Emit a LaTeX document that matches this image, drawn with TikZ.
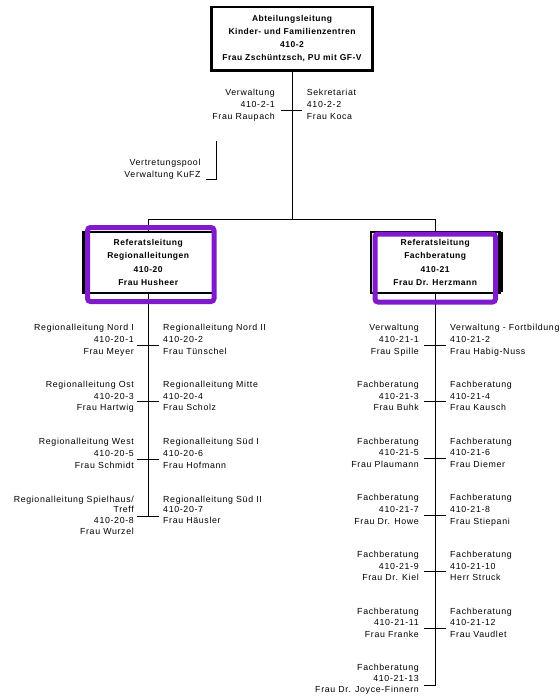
\documentclass[tikz,border=0pt]{standalone}
\usepackage{fontspec}
\setmainfont{Liberation Sans}[LetterSpace=7.5]
\definecolor{violetframe}{RGB}{128,26,204}
\tikzset{
  lbl/.style={inner sep=0pt, font=\fontsize{8.8}{11.7}\selectfont},
  lr/.style={lbl, align=right, anchor=north east},
  ll/.style={lbl, align=left, anchor=north west},
  tight/.style={font=\fontsize{8.8}{10.6}\selectfont},
  headbox/.style={draw, line width=2.7pt, inner sep=0pt, align=center, fill=white,
    font=\bfseries\fontsize{8.5}{13.2}\selectfont\addfontfeature{LetterSpace=6}},
  pframe/.style={draw=violetframe, line width=5pt, rounded corners=3pt},
  conn/.style={line width=1pt},
}
\begin{document}
\begin{tikzpicture}[x=1pt,y=-1pt]
\useasboundingbox (0,0) rectangle (560,697);

% ---------- top ----------
\node[headbox, minimum width=161.3pt, minimum height=63.3pt] (top) at (292,38.5)
  {Abteilungsleitung\\Kinder- und Familienzentren\\410-2\\Frau Zschüntzsch, PU mit GF-V};

\coordinate (j0) at (292,219);
\coordinate (jL) at (148,219);
\coordinate (jR) at (435,219);
\coordinate (stl) at (281,110.7);
\coordinate (str) at (302,110.7);

\draw[conn] (top.south) -- (j0);
\draw[conn] (jL) -- (jR);
\draw[conn] (stl) -- (str);

\node[lr, font=\fontsize{8.8}{12}\selectfont] (verw) at (275,88.9) {Verwaltung\\410-2-1\\Frau Raupach};
\node[ll, font=\fontsize{8.8}{12}\selectfont] (sekr) at (306.7,88.9) {Sekretariat\\410-2-2\\Frau Koca};

% Vertretungspool bracket
\node[lr, font=\fontsize{8.8}{12}\selectfont] (pool) at (200.7,158.9) {Vertretungspool\\Verwaltung KuFZ};
\coordinate (pa) at (216.5,141);
\coordinate (pb) at (216.5,179);
\coordinate (pc) at (206,179);
\draw[conn] (pa) -- (pb) -- (pc);

% ---------- Referat boxes ----------
\coordinate (endL) at (148,516);
\coordinate (endR) at (435,685);
\coordinate (endRl) at (424,685);
\coordinate (tL1) at (137,516);
\coordinate (tL2) at (159,516);

\draw[conn] (jL) -- (148,240);
\draw[conn] (jR) -- (435,240);
\draw[conn] (148,290) -- (endL);
\draw[conn] (435,290) -- (endR) -- (endRl);
\draw[conn] (tL1) -- (tL2);

\node[headbox, minimum width=130pt, minimum height=61pt] (refL) at (148.2,262.5)
  {Referatsleitung\\Regionalleitungen\\410-20\\Frau Husheer};
\draw[pframe] (87.5,227.5) rectangle (214,301.5);

\node[headbox, minimum width=128.5pt, minimum height=61pt] (refR) at (435.2,262.5)
  {Referatsleitung\\Fachberatung\\410-21\\Frau Dr. Herzmann};
\draw[line width=1.5pt] (refR.north east) ++(1.2,1) -- ++(0,60);
\draw[pframe] (375,234) rectangle (495.5,302);

% ---------- left column ----------
\foreach \t [count=\i] in {345,401.7,459} {
  \coordinate (la\i) at (137,\t);
  \coordinate (lb\i) at (159,\t);
  \draw[conn] (la\i) -- (lb\i);
}
\node[lr] (rl1) at (134,324.2) {Regionalleitung Nord I\\410-20-1\\Frau Meyer};
\node[ll] (rr1) at (163,324.2) {Regionalleitung Nord II\\410-20-2\\Frau Tünschel};
\node[lr] (rl2) at (134,380.9) {Regionalleitung Ost\\410-20-3\\Frau Hartwig};
\node[ll] (rr2) at (163,380.9) {Regionalleitung Mitte\\410-20-4\\Frau Scholz};
\node[lr] (rl3) at (134,438.2) {Regionalleitung West\\410-20-5\\Frau Schmidt};
\node[ll] (rr3) at (163,438.2) {Regionalleitung Süd I\\410-20-6\\Frau Hofmann};
\node[lr, tight] (rl4) at (134,495.7) {Regionalleitung Spielhaus/\\Treff\\410-20-8\\Frau Wurzel};
\node[ll, tight] (rr4) at (163,495.7) {Regionalleitung Süd II\\410-20-7\\Frau Häusler};

% ---------- right column ----------
\foreach \t [count=\i] in {345,401.7,458.3,515,571.7,628.3} {
  \coordinate (ra\i) at (424,\t);
  \coordinate (rb\i) at (446,\t);
  \draw[conn] (ra\i) -- (rb\i);
}
\node[lr] (fl1) at (419,324.2) {Verwaltung\\410-21-1\\Frau Spille};
\node[ll] (fr1) at (450,324.2) {Verwaltung - Fortbildung\\410-21-2\\Frau Habig-Nuss};
\node[lr] (fl2) at (419,380.9) {Fachberatung\\410-21-3\\Frau Buhk};
\node[ll] (fr2) at (450,380.9) {Fachberatung\\410-21-4\\Frau Kausch};
\node[lr] (fl3) at (419,437.5) {Fachberatung\\410-21-5\\Frau Plaumann};
\node[ll] (fr3) at (450,437.5) {Fachberatung\\410-21-6\\Frau Diemer};
\node[lr] (fl4) at (419,494.2) {Fachberatung\\410-21-7\\Frau Dr. Howe};
\node[ll] (fr4) at (450,494.2) {Fachberatung\\410-21-8\\Frau Stiepani};
\node[lr] (fl5) at (419,550.9) {Fachberatung\\410-21-9\\Frau Dr. Kiel};
\node[ll] (fr5) at (450,550.9) {Fachberatung\\410-21-10\\Herr Struck};
\node[lr] (fl6) at (419,607.5) {Fachberatung\\410-21-11\\Frau Franke};
\node[ll] (fr6) at (450,607.5) {Fachberatung\\410-21-12\\Frau Vaudlet};
\node[lr, font=\fontsize{8.8}{11}\selectfont] (fl7) at (419,663.7) {Fachberatung\\410-21-13\\Frau Dr. Joyce-Finnern};
\end{tikzpicture}
\end{document}
